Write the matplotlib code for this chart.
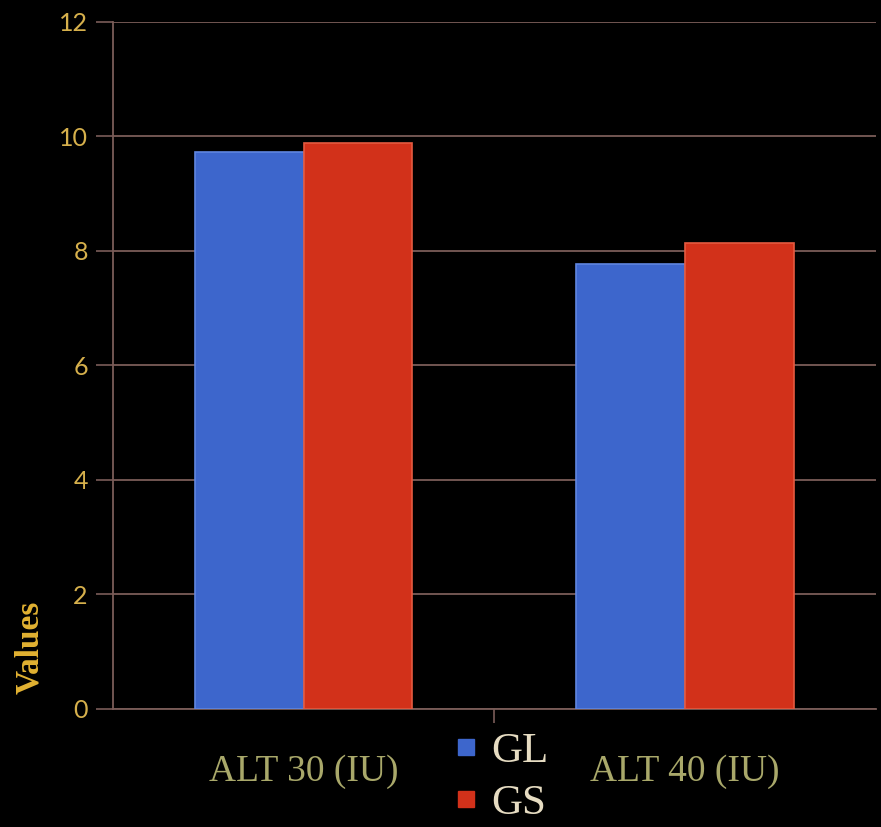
import matplotlib.pyplot as plt
import numpy as np
from matplotlib.lines import Line2D

categories = ['ALT 30 (IU)', 'ALT 40 (IU)']
series_names = ['GL', 'GS']
gl_values = [9.73, 7.76]
gs_values = [9.87, 8.14]
y_ticks = [0, 2, 4, 6, 8, 10, 12]

BG = '#000000'
GRID = '#7a5c58'
TICK_GOLD = '#d6b04c'
CAT_GREEN = '#a9a86a'
LEGEND_TXT = '#e6dcc2'
BLUE = '#3d66cc'
RED = '#d2311a'

fig = plt.figure(figsize=(8.81, 8.27), dpi=100, facecolor=BG)
ax = fig.add_axes([0.128, 0.143, 0.866, 0.831], facecolor=BG)

x = np.arange(len(categories))
w = 0.285
ax.bar(x - w / 2, gl_values, w, color=BLUE, edgecolor='#5f86e0', linewidth=1.2, zorder=3)
ax.bar(x + w / 2, gs_values, w, color=RED, edgecolor='#e45a40', linewidth=1.2, zorder=3)

ax.set_xlim(-0.5, 1.5)
ax.set_ylim(0, 12)
ax.set_yticks(y_ticks)
ax.yaxis.grid(True, color=GRID, linewidth=1.3, zorder=0)

for side in ['top', 'right']:
    ax.spines[side].set_visible(False)
for side in ['left', 'bottom']:
    ax.spines[side].set_color(GRID)
    ax.spines[side].set_linewidth(1.3)

ax.tick_params(axis='y', colors=GRID, length=12, width=1.2, direction='out', pad=6)
for lbl in ax.get_yticklabels():
    lbl.set_color(TICK_GOLD)
    lbl.set_fontsize(18)
    lbl.set_fontfamily('Lato')

ax.set_xticks(x)
ax.set_xticklabels(categories, fontsize=27, color=CAT_GREEN, family='Liberation Serif')
ax.tick_params(axis='x', which='major', length=0, pad=33)
ax.set_xticks([0.5], minor=True)
ax.tick_params(axis='x', which='minor', length=10, width=1.2, color=GRID, direction='out')

ax.set_ylabel('Values', fontsize=24, fontweight='bold', color='#e2b232',
              family='Liberation Serif')
ax.yaxis.set_label_coords(-0.089, 0.09)

handles = [Line2D([], [], marker='s', linestyle='', markersize=11, color=BLUE),
           Line2D([], [], marker='s', linestyle='', markersize=11, color=RED)]
leg = fig.legend(handles, series_names, loc='center', bbox_to_anchor=(0.567, 0.06),
                 frameon=False, ncol=1, handlelength=0.7, handletextpad=0.25,
                 labelspacing=0.3, borderpad=0,
                 prop={'family': 'Liberation Serif', 'size': 31})
for t in leg.get_texts():
    t.set_color(LEGEND_TXT)

fig.savefig('out.png', dpi=100, facecolor=BG)
